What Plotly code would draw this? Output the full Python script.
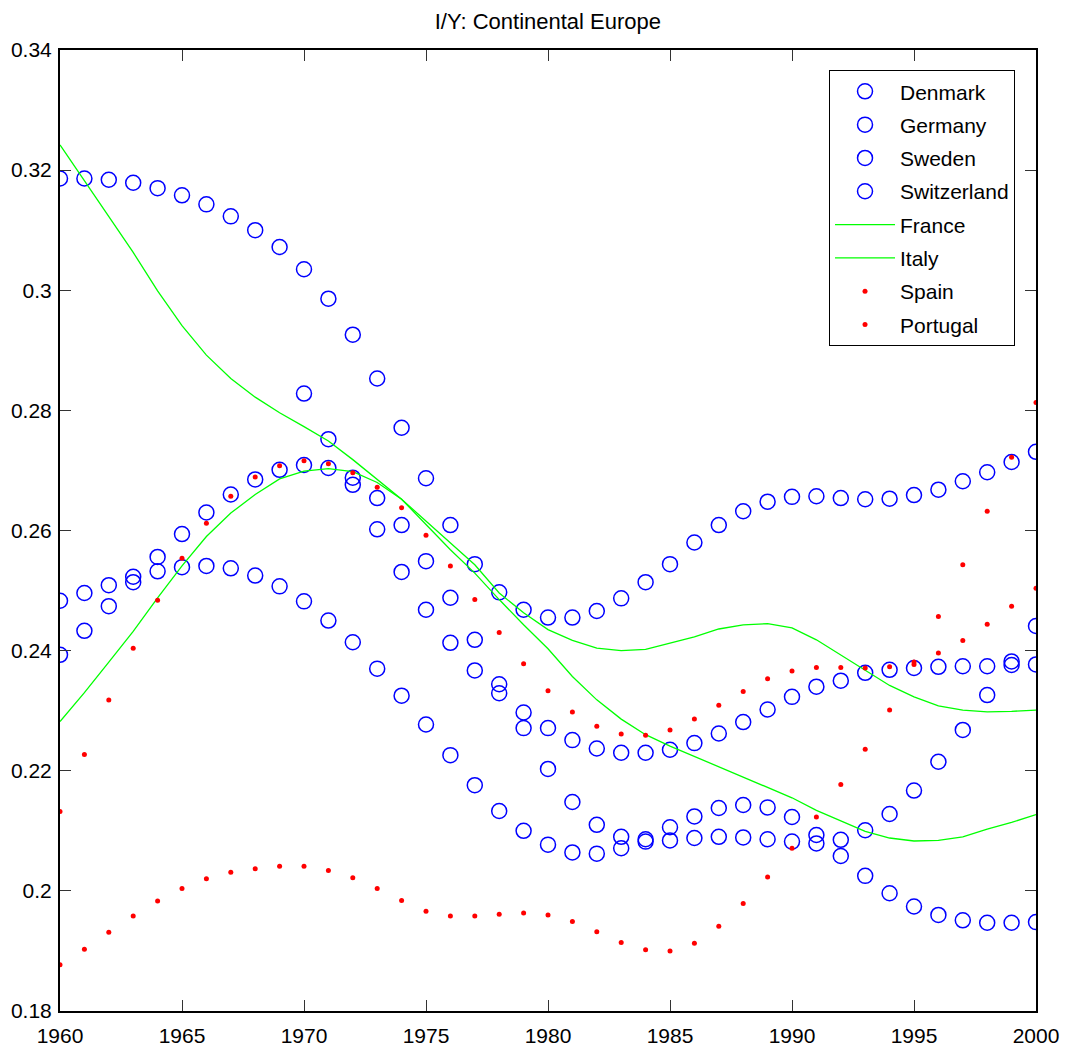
import plotly.graph_objects as go

years = list(range(1960, 2001))

denmark = [0.2483, 0.2496, 0.2509, 0.2523, 0.2556, 0.2594, 0.2630, 0.2660, 0.2685, 0.2701,
           0.2709, 0.2704, 0.2688, 0.2654, 0.2609, 0.2549, 0.2488, 0.2418, 0.2344, 0.2271,
           0.2203, 0.2148, 0.2110, 0.2090, 0.2086, 0.2106, 0.2124, 0.2138, 0.2143, 0.2139,
           0.2123, 0.2093, 0.2085, 0.2101, 0.2128, 0.2167, 0.2215, 0.2268, 0.2326, 0.2376,
           0.2441]
germany = [0.3186, 0.3186, 0.3184, 0.3179, 0.3170, 0.3158, 0.3143, 0.3123, 0.3100, 0.3072,
           0.3035, 0.2986, 0.2926, 0.2853, 0.2771, 0.2687, 0.2609, 0.2544, 0.2497, 0.2468,
           0.2455, 0.2455, 0.2466, 0.2487, 0.2514, 0.2544, 0.2580, 0.2609, 0.2632, 0.2648,
           0.2656, 0.2657, 0.2654, 0.2652, 0.2653, 0.2659, 0.2668, 0.2682, 0.2697, 0.2714,
           0.2731]
sweden = [0.2393, 0.2433, 0.2474, 0.2514, 0.2532, 0.2539, 0.2541, 0.2537, 0.2525, 0.2507,
          0.2482, 0.2450, 0.2414, 0.2370, 0.2325, 0.2277, 0.2226, 0.2176, 0.2133, 0.2100,
          0.2077, 0.2064, 0.2062, 0.2071, 0.2082, 0.2084, 0.2088, 0.2090, 0.2089, 0.2086,
          0.2082, 0.2079, 0.2058, 0.2025, 0.1996, 0.1974, 0.1960, 0.1951, 0.1947, 0.1947,
          0.1948]
switzerland = [None, None, None, None, None, None, None, None, None, None,
               0.2828, 0.2752, 0.2676, 0.2602, 0.2531, 0.2468, 0.2413, 0.2367, 0.2329, 0.2297,
               0.2271, 0.2251, 0.2237, 0.2230, 0.2230, 0.2235, 0.2246, 0.2262, 0.2281, 0.2302,
               0.2323, 0.2340, 0.2350, 0.2363, 0.2368, 0.2371, 0.2373, 0.2374, 0.2374, 0.2382,
               0.2377]
france = [0.3242, 0.3182, 0.3124, 0.3063, 0.2999, 0.2941, 0.2892, 0.2853, 0.2822, 0.2796,
          0.2773, 0.2749, 0.2718, 0.2685, 0.2652, 0.2610, 0.2568, 0.2529, 0.2485, 0.2443,
          0.2403, 0.2357, 0.2318, 0.2286, 0.2260, 0.2241, 0.2224, 0.2206, 0.2190, 0.2173,
          0.2155, 0.2134, 0.2116, 0.2099, 0.2088, 0.2083, 0.2084, 0.2090, 0.2103, 0.2114,
          0.2127]
italy = [0.2282, 0.2330, 0.2381, 0.2432, 0.2488, 0.2541, 0.2590, 0.2629, 0.2660, 0.2686,
         0.2699, 0.2703, 0.2698, 0.2680, 0.2652, 0.2616, 0.2580, 0.2543, 0.2496, 0.2463,
         0.2435, 0.2417, 0.2404, 0.2400, 0.2402, 0.2412, 0.2423, 0.2436, 0.2443, 0.2445,
         0.2438, 0.2418, 0.2393, 0.2368, 0.2342, 0.2323, 0.2308, 0.2301, 0.2298, 0.2299,
         0.2301]
spain = [0.2132, 0.2227, 0.2318, 0.2404, 0.2484, 0.2554, 0.2612, 0.2657, 0.2689, 0.2708,
         0.2716, 0.2711, 0.2696, 0.2672, 0.2638, 0.2592, 0.2541, 0.2485, 0.2430, 0.2378,
         0.2333, 0.2298, 0.2274, 0.2261, 0.2259, 0.2268, 0.2286, 0.2309, 0.2332, 0.2353,
         0.2366, 0.2372, 0.2372, 0.2371, 0.2373, 0.2377, 0.2396, 0.2417, 0.2444, 0.2474,
         0.2504]
portugal = [0.1877, 0.1903, 0.1931, 0.1958, 0.1983, 0.2004, 0.2020, 0.2031, 0.2037, 0.2041,
            0.2041, 0.2034, 0.2022, 0.2004, 0.1984, 0.1966, 0.1958, 0.1958, 0.1961, 0.1963,
            0.1960, 0.1949, 0.1932, 0.1914, 0.1902, 0.1900, 0.1913, 0.1941, 0.1979, 0.2023,
            0.2071, 0.2123, 0.2177, 0.2236, 0.2301, 0.2381, 0.2457, 0.2543, 0.2632, 0.2722,
            0.2813]

x_ticks = [1960, 1965, 1970, 1975, 1980, 1985, 1990, 1995, 2000]
y_ticks = [0.18, 0.20, 0.22, 0.24, 0.26, 0.28, 0.30, 0.32, 0.34]
y_tick_text = ["0.18", "0.2", "0.22", "0.24", "0.26", "0.28", "0.3", "0.32", "0.34"]

FONT = "Liberation Sans, Arial, Helvetica, sans-serif"
BLUE = "#0000ff"
GREEN = "#00ff00"
RED = "#ff0000"

fig = go.Figure()

# one legend group per country so the legend rows get a small extra gap
for name, vals in [("Denmark", denmark), ("Germany", germany),
                   ("Sweden", sweden), ("Switzerland", switzerland)]:
    fig.add_trace(go.Scatter(
        x=years, y=vals, name=name, legendgroup=name, mode="markers",
        marker=dict(symbol="circle-open", size=15, color=BLUE,
                    line=dict(width=1.5, color=BLUE)),
    ))

for name, vals in [("France", france), ("Italy", italy)]:
    fig.add_trace(go.Scatter(
        x=years, y=vals, name=name, legendgroup=name, mode="lines",
        line=dict(color=GREEN, width=1.3),
    ))

for name, vals in [("Spain", spain), ("Portugal", portugal)]:
    fig.add_trace(go.Scatter(
        x=years, y=vals, name=name, legendgroup=name, mode="markers",
        marker=dict(symbol="circle", size=5, color=RED),
    ))

axis_common = dict(
    showline=True, linecolor="black", linewidth=2, mirror="ticks",
    ticks="inside", ticklen=11, tickwidth=1, tickcolor="#333333",
    showgrid=False, zeroline=False, automargin=False,
    tickfont=dict(family=FONT, size=21, color="black"),
)

fig.update_xaxes(range=[1960, 2000], tickvals=x_ticks, ticklabelstandoff=5,
                 **axis_common)
fig.update_yaxes(range=[0.18, 0.34], tickvals=y_ticks, ticktext=y_tick_text,
                 ticklabelstandoff=2, **axis_common)

fig.update_layout(
    width=1068, height=1056,
    margin=dict(l=60, r=32, t=50, b=45),
    paper_bgcolor="white", plot_bgcolor="white",
    title=dict(text="I/Y: Continental Europe", x=0.513, xanchor="center",
               y=1 - 21 / 1056, yanchor="middle",
               font=dict(family=FONT, size=22, color="black")),
    legend=dict(
        x=0.9785, y=0.979, xanchor="right", yanchor="top",
        bgcolor="white", bordercolor="black", borderwidth=1,
        font=dict(family=FONT, size=21, color="black"),
        itemwidth=60, tracegroupgap=3,
    ),
    showlegend=True,
)

fig.write_html("out.html")
